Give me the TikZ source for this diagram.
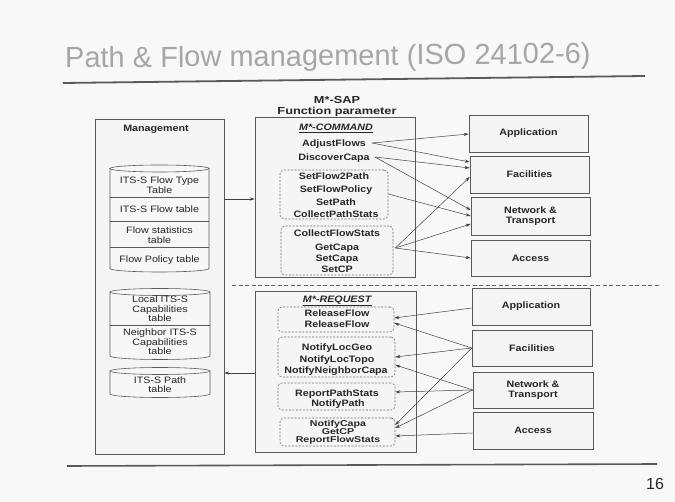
\documentclass[tikz,border=0pt]{standalone}
\usepackage{fontspec}
\setmainfont{Liberation Sans}
\newfontfamily\df[FakeStretch=1.15]{Liberation Sans}
\newfontfamily\dfw[FakeStretch=1.25]{Liberation Sans}
\usetikzlibrary{arrows.meta}
\definecolor{bg}{HTML}{F8F8F9}
\definecolor{ink}{HTML}{262626}
\definecolor{titlegray}{HTML}{A6A6A6}
\newcommand\mycyl[4]{%
  \pgfmathsetmacro\cylcx{(#1+#2)/2}%
  \pgfmathsetmacro\cylrx{(#2-#1)/2}%
  \fill[cylfill] (#1,#3) -- (#1,#4) arc[start angle=180,end angle=0,x radius=\cylrx,y radius=3.5] -- (#2,#3) -- cycle;
  \draw[cylline] (#1,#3) -- (#1,#4) arc[start angle=180,end angle=0,x radius=\cylrx,y radius=3.5] -- (#2,#3);
  \filldraw[cylfill,cylline] (\cylcx,#3) ellipse[x radius=\cylrx,y radius=3.5];
}
\tikzset{
  cylfill/.style={fill=black!3},
  cylline/.style={draw=black!65,line width=0.6pt},
  box/.style={draw=black!65,fill=black!4,line width=0.6pt,inner sep=0pt},
  grp/.style={draw=black!55,dash pattern=on 2pt off 1.5pt,rounded corners=4pt,inner sep=0pt,line width=0.6pt},
  itm/.style={inner sep=0pt,text height=6.7pt,text depth=0pt,text=ink,font=\df\bfseries\fontsize{9.3}{9.5}\selectfont},
  itmsm/.style={itm,text height=6.1pt,font=\dfw\bfseries\fontsize{8.5}{8.7}\selectfont},
  head/.style={itm,text height=7.4pt,font=\dfw\bfseries\fontsize{10.2}{10.4}\selectfont},
  mtxt/.style={inner sep=0pt,align=center,text=ink,font=\df\fontsize{9.3}{9.6}\selectfont},
  ltxt/.style={box,align=center,text=ink,font=\df\bfseries\fontsize{9.3}{9.6}\selectfont},
  arr/.style={draw=black!75,line width=0.5pt,-{Stealth[length=5pt,width=3.2pt]}},
}
\begin{document}
\begin{tikzpicture}[x=1pt,y=-1pt]
\useasboundingbox (0,0) rectangle (675,502);
\fill[bg] (0,0) rectangle (675,502);

% title and rules
\node[anchor=base west,inner sep=0pt,text=titlegray,font=\fontsize{29}{31}\selectfont,rotate=0.5] (title) at (65,68) {Path \& Flow management (ISO 24102-6)};
\coordinate (rtl) at (63,83);
\coordinate (rtr) at (645,76);
\draw[black!65,line width=1.8pt] (rtl) -- (rtr);
\coordinate (rbl) at (67,466);
\coordinate (rbr) at (657,464);
\draw[black!65,line width=1.6pt] (rbl) -- (rbr);
\node[inner sep=0pt,text=ink,font=\fontsize{16}{18}\selectfont] (pnum) at (655,484) {16};

% management
\node[box,minimum width=129pt,minimum height=335pt] (mgmt) at (159.5,286.5) {};
\node[itm] (mgmtT) at (156,128) {Management};
\mycyl{110}{209}{168.5}{268.5}
\draw[cylline] (110,197) -- (209,197);
\draw[cylline] (110,221) -- (209,221);
\draw[cylline] (110,247) -- (209,247);
\node[mtxt] (t1) at (159.5,185) {ITS-S Flow Type\\Table};
\node[mtxt] (t2) at (159.5,209.5) {ITS-S Flow table};
\node[mtxt] (t3) at (159.5,235) {Flow statistics\\table};
\node[mtxt] (t4) at (159.5,260) {Flow Policy table};
\mycyl{110}{210}{292}{356}
\draw[cylline] (110,325) -- (210,325);
\node[mtxt] (t5) at (160,309) {Local ITS-S\\Capabilities\\table};
\node[mtxt] (t6) at (160,342) {Neighbor ITS-S\\Capabilities\\table};
\mycyl{110}{210}{371}{394}
\node[mtxt] (t7) at (160,384.5) {ITS-S Path\\table};

% SAP heading
\node[head] (sap1) at (337,100) {M*-SAP};
\node[head] (sap2) at (337,110.5) {Function parameter};

% command box
\node[box,minimum width=160pt,minimum height=160pt] (cmd) at (335,197) {};
\node[itm] (cmdT) at (336,127) {\underline{\textit{M*-COMMAND}}};
\node[itm] (adj) at (334,143) {AdjustFlows};
\node[itm] (disc) at (334,157) {DiscoverCapa};
\node[grp,minimum width=108pt,minimum height=49pt] (g1) at (334,194.5) {};
\node[itm] (sf2p) at (334,176) {SetFlow2Path};
\node[itm] (sfp) at (336,189) {SetFlowPolicy};
\node[itm] (sp) at (336,202) {SetPath};
\node[itm] (cps) at (336,214) {CollectPathStats};
\node[grp,minimum width=112pt,minimum height=49pt] (g2) at (337,250.5) {};
\node[itm] (cfs) at (337,233) {CollectFlowStats};
\node[itm] (gc) at (337,247) {GetCapa};
\node[itm] (sc) at (337,258) {SetCapa};
\node[itm] (scp) at (337,269) {SetCP};

% separator
\coordinate (dl) at (232,285);
\coordinate (dr) at (660,285);
\draw[black!60,line width=0.6pt,dash pattern=on 4pt off 2.5pt] (dl) -- (dr);

% request box
\node[box,minimum width=161pt,minimum height=161pt] (req) at (335.5,371.5) {};
\node[itm] (reqT) at (337.5,299) {\underline{\textit{M*-REQUEST}}};
\node[grp,minimum width=116pt,minimum height=25pt] (gA) at (336,319.5) {};
\node[itm] (rf1) at (337,313) {ReleaseFlow};
\node[itm] (rf2) at (337,324.5) {ReleaseFlow};
\node[grp,minimum width=117pt,minimum height=40pt] (gB) at (336.5,357) {};
\node[itm] (nlg) at (337,347) {NotifyLocGeo};
\node[itm] (nlt) at (337,359) {NotifyLocTopo};
\node[itm] (nnc) at (336,370.5) {NotifyNeighborCapa};
\node[grp,minimum width=117pt,minimum height=27pt] (gC) at (336.5,396.5) {};
\node[itm] (rps) at (337,393) {ReportPathStats};
\node[itm] (np) at (338,403.5) {NotifyPath};
\node[grp,minimum width=115pt,minimum height=28pt] (gD) at (337.5,432) {};
\node[itmsm] (nc) at (338,423.3) {NotifyCapa};
\node[itmsm] (gcp) at (338,431.6) {GetCP};
\node[itmsm] (rfs) at (338,439.9) {ReportFlowStats};

% layer boxes top
\node[ltxt,minimum width=119pt,minimum height=37pt] (appT) at (528.5,133.5) {Application};
\node[ltxt,minimum width=119pt,minimum height=37pt] (facT) at (529.5,174.5) {Facilities};
\node[ltxt,minimum width=119pt,minimum height=38pt] (netT) at (530.5,216) {Network \&\\Transport};
\node[ltxt,minimum width=119pt,minimum height=36pt] (accT) at (530.5,258) {Access};
% layer boxes bottom
\node[ltxt,minimum width=118pt,minimum height=37pt] (appB) at (531,306.5) {Application};
\node[ltxt,minimum width=120pt,minimum height=36pt] (facB) at (532,348) {Facilities};
\node[ltxt,minimum width=120pt,minimum height=36pt] (netB) at (533,390) {Network \&\\Transport};
\node[ltxt,minimum width=120pt,minimum height=37pt] (accB) at (533,430.5) {Access};

% management arrows
\draw[arr] (mgmt.east |- 0,199) -- (cmd.west |- 0,199);
\draw[arr] (req.west |- 0,373) -- (mgmt.east |- 0,373);

% command arrows
\draw[arr] ([xshift=6pt]adj.east) -- (appT.west |- 0,134);
\draw[arr] ([xshift=6pt]adj.east) -- (facT.west |- 0,162);
\draw[arr] ([xshift=5pt]disc.east) -- (facT.west |- 0,168);
\draw[arr] ([xshift=5pt]disc.east) -- (netT.west |- 0,210);
\draw[arr] (g1.east |- 0,194) -- (netT.west |- 0,216);
\draw[arr] ([xshift=2pt]g2.east |- 0,248) -- (facT.west |- 0,177);
\draw[arr] ([xshift=2pt]g2.east |- 0,248) -- (netT.west |- 0,224);
\draw[arr] ([xshift=2pt]g2.east |- 0,248) -- (accT.west |- 0,258);

% request arrows
\draw[arr] (appB.west |- 0,308) -- (gA.east |- 0,318);
\draw[arr] (facB.west |- 0,348) -- (gA.east |- 0,323);
\draw[arr] (facB.west |- 0,348) -- (gB.east |- 0,357);
\draw[arr] (facB.west |- 0,348) -- (gD.east |- 0,425);
\draw[arr] (netB.west |- 0,390) -- (gB.east |- 0,365);
\draw[arr] (netB.west |- 0,390) -- (gC.east |- 0,392);
\draw[arr] (netB.west |- 0,390) -- (gD.east |- 0,428);
\draw[arr] (accB.west |- 0,433) -- (gD.east |- 0,436);
\end{tikzpicture}
\end{document}
